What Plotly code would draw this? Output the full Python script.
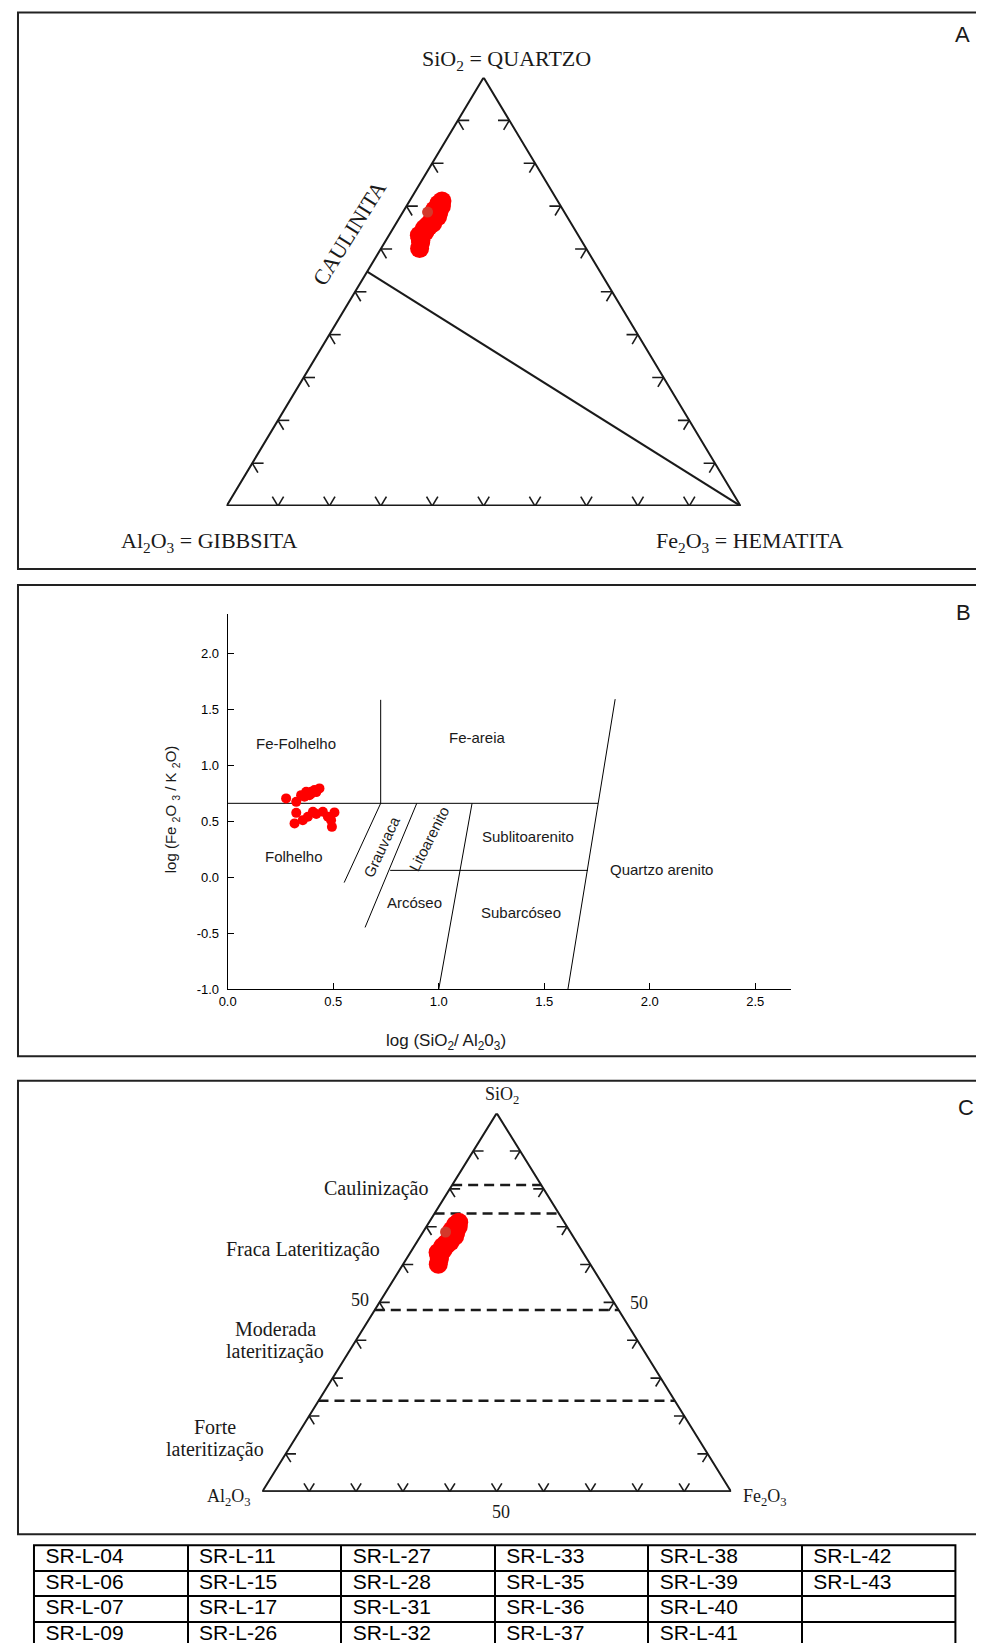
import plotly.graph_objects as go

# ---------- dados ternarios (fracao SiO2, Al2O3, Fe2O3) ----------
sio2 = [0.712, 0.705, 0.691, 0.686, 0.675, 0.668, 0.660, 0.655, 0.648, 0.640, 0.632,
        0.625, 0.615, 0.601, 0.700, 0.683, 0.671, 0.652, 0.637, 0.620, 0.694, 0.662]
al2o3 = [0.225, 0.235, 0.250, 0.244, 0.252, 0.264, 0.269, 0.281, 0.291, 0.294, 0.309,
         0.311, 0.315, 0.324, 0.232, 0.253, 0.263, 0.281, 0.300, 0.312, 0.241, 0.272]
fe2o3 = [0.063, 0.060, 0.059, 0.070, 0.073, 0.068, 0.071, 0.064, 0.061, 0.066, 0.059,
         0.064, 0.070, 0.075, 0.068, 0.064, 0.066, 0.067, 0.063, 0.068, 0.065, 0.066]
# amostra sobreposta (tom mais escuro)
destaque = [0.686, 0.266, 0.048]

caulinita = [0.547, 0.453, 0.0]          # si, al, fe
tick_frac = [0.1, 0.2, 0.3, 0.4, 0.5, 0.6, 0.7, 0.8, 0.9]
limites_lat = [0.81, 0.735, 0.48, 0.24]  # niveis de SiO2 (painel C)

# ---------- dados Herron (painel B) ----------
log_si_al = [0.277, 0.325, 0.348, 0.372, 0.396, 0.411, 0.435, 0.388, 0.364, 0.395, 0.420,
             0.325, 0.317, 0.356, 0.380, 0.404, 0.451, 0.475, 0.506, 0.490, 0.494, 0.420]
log_fe_k = [0.704, 0.673, 0.733, 0.763, 0.763, 0.778, 0.793, 0.733, 0.718, 0.745, 0.760,
            0.575, 0.481, 0.510, 0.540, 0.584, 0.584, 0.540, 0.579, 0.510, 0.450, 0.565]
# segmentos de limite: x0, y0, x1, y1
limites_b = [
    [0.0, 0.66, 1.755, 0.66],
    [0.725, 0.66, 0.725, 1.583],
    [0.725, 0.66, 0.552, -0.047],
    [0.896, 0.66, 0.651, -0.447],
    [1.158, 0.66, 1.0, -1.0],
    [0.77, 0.062, 1.707, 0.062],
    [1.836, 1.589, 1.612, -1.0],
]
xticks_b = [0.0, 0.5, 1.0, 1.5, 2.0, 2.5]
yticks_b = [-1.0, -0.5, 0.0, 0.5, 1.0, 1.5, 2.0]

# ---------- tabela de amostras (por coluna) ----------
amostras = [
    ["SR-L-04", "SR-L-06", "SR-L-07", "SR-L-09"],
    ["SR-L-11", "SR-L-15", "SR-L-17", "SR-L-26"],
    ["SR-L-27", "SR-L-28", "SR-L-31", "SR-L-32"],
    ["SR-L-33", "SR-L-35", "SR-L-36", "SR-L-37"],
    ["SR-L-38", "SR-L-39", "SR-L-40", "SR-L-41"],
    ["SR-L-42", "SR-L-43", "", ""],
]

W, H = 984, 1643
# deslocamento/escala observados entre a figura e a captura
OFFX, SCX = 15.5, 0.992
OFFY, SCY = 8.0, 0.995
SERIF = "Liberation Serif"
SANS = "Liberation Sans"

# geometria de cada painel em pixels da tela: x em 0, px por unidade, y em 0, px por unidade
GEO = {
    "A": (225.3, 514.7, 506.0, -428.5),
    "B": (226.4, 211.3, 877.2, -112.1),
    "C": (261.0, 469.5, 1491.5, -378.5),
}


def px(v):
    return (v - OFFX) / SCX / W


def py(v):
    return 1 - (v - OFFY) / SCY / H


def dom(panel, xr, yr):
    gx0, gxs, gy0, gys = GEO[panel]
    xd = [px(gx0 + xr[0] * gxs), px(gx0 + xr[1] * gxs)]
    yd = [py(gy0 + yr[0] * gys), py(gy0 + yr[1] * gys)]
    return xd, yd


def xy(si, al, fe):
    s = si + al + fe
    return (fe + si / 2) / s, si / s


def segs_to_xy(segs):
    xs, ys = [], []
    for a, b in segs:
        for p in (a, b):
            x, y = xy(*p)
            xs.append(x)
            ys.append(y)
        xs.append(None)
        ys.append(None)
    return xs, ys


L = 0.022
tick_segs = []
for f in tick_frac:
    tick_segs += [((f, 1 - f, 0), (f, 1 - f - L, L)), ((f, 1 - f, 0), (f - L, 1 - f, L)),
                  ((f, 0, 1 - f), (f, L, 1 - f - L)), ((f, 0, 1 - f), (f - L, L, 1 - f)),
                  ((0, 1 - f, f), (L, 1 - f - L, f)), ((0, 1 - f, f), (L, 1 - f, f - L))]

fig = go.Figure()


def triangulo(xa, ya):
    vx, vy = zip(*[xy(1, 0, 0), xy(0, 1, 0), xy(0, 0, 1), xy(1, 0, 0)])
    fig.add_trace(go.Scatter(x=list(vx), y=list(vy), mode="lines", xaxis=xa, yaxis=ya,
                             line=dict(color="#1a1a1a", width=2), cliponaxis=False, hoverinfo="skip"))
    bx, by = zip(xy(0, 1, 0), xy(0, 0, 1))
    fig.add_trace(go.Scatter(x=list(bx), y=list(by), mode="lines", xaxis=xa, yaxis=ya,
                             line=dict(color="#1a1a1a", width=3), cliponaxis=False, hoverinfo="skip"))
    tx, ty = segs_to_xy(tick_segs)
    fig.add_trace(go.Scatter(x=tx, y=ty, mode="lines", xaxis=xa, yaxis=ya,
                             line=dict(color="#1a1a1a", width=1.6), cliponaxis=False, hoverinfo="skip"))


def pontos_tern(xa, ya):
    pts = [xy(s, a, f) for s, a, f in zip(sio2, al2o3, fe2o3)]
    fig.add_trace(go.Scatter(x=[p[0] for p in pts], y=[p[1] for p in pts], mode="markers",
                             xaxis=xa, yaxis=ya, cliponaxis=False,
                             marker=dict(color="#ff0000", size=19, line=dict(width=0))))
    hx, hy = xy(*destaque)
    fig.add_trace(go.Scatter(x=[hx], y=[hy], mode="markers", xaxis=xa, yaxis=ya, cliponaxis=False,
                             marker=dict(color="#d4392b", size=11, line=dict(width=0))))


# ---------- painel A ----------
triangulo("x", "y")
kx, ky = segs_to_xy([(tuple(caulinita), (0, 0, 1))])
fig.add_trace(go.Scatter(x=kx, y=ky, mode="lines", line=dict(color="#1a1a1a", width=2),
                         cliponaxis=False, hoverinfo="skip"))
pontos_tern("x", "y")

# ---------- painel B ----------
bx, by = [], []
for x0, y0, x1, y1 in limites_b:
    bx += [x0, x1, None]
    by += [y0, y1, None]
fig.add_trace(go.Scatter(x=bx, y=by, mode="lines", xaxis="x2", yaxis="y2",
                         line=dict(color="black", width=1), cliponaxis=False, hoverinfo="skip"))
fig.add_trace(go.Scatter(x=log_si_al, y=log_fe_k, mode="markers", xaxis="x2", yaxis="y2",
                         cliponaxis=False, marker=dict(color="#ff0000", size=10, line=dict(width=0))))

# ---------- painel C ----------
triangulo("x3", "y3")
dsegs = [((s, 1 - s, 0), (s, 0, 1 - s)) for s in limites_lat]
dx, dy = segs_to_xy(dsegs)
fig.add_trace(go.Scatter(x=dx, y=dy, mode="lines", xaxis="x3", yaxis="y3",
                         line=dict(color="#1a1a1a", width=2.5, dash="10px,6px"),
                         cliponaxis=False, hoverinfo="skip"))
pontos_tern("x3", "y3")

# ---------- tabela (eixos x4/y4: coluna e linha) ----------
tx, ty, tt = [], [], []
for ci, col in enumerate(amostras):
    for ri, nome in enumerate(col):
        if nome:
            tx.append(ci + 0.075)
            ty.append(ri + 0.5)
            tt.append(nome)
fig.add_trace(go.Scatter(x=tx, y=ty, text=tt, mode="text", textposition="middle right",
                         xaxis="x4", yaxis="y4", cliponaxis=True, hoverinfo="skip",
                         textfont=dict(family=SANS, size=21, color="black")))

tab_h = H - (1545 - OFFY) / SCY          # altura disponivel (px da figura)
row_px = 25.6 / SCY
n_cols = len(amostras)

hidden = dict(visible=False, fixedrange=True)
xa_d, ya_d = dom("A", (0, 1), (0, 1))
xb_d, yb_d = dom("B", (0, 2.67), (-1.0, 2.35))
xc_d, yc_d = dom("C", (0, 1), (0, 1))
fig.update_layout(
    width=W, height=H, margin=dict(l=0, r=0, t=0, b=0),
    paper_bgcolor="white", plot_bgcolor="white", showlegend=False,
    xaxis=dict(domain=xa_d, anchor="y", range=[0, 1], **hidden),
    yaxis=dict(domain=ya_d, anchor="x", range=[0, 1], **hidden),
    xaxis3=dict(domain=xc_d, anchor="y3", range=[0, 1], **hidden),
    yaxis3=dict(domain=yc_d, anchor="x3", range=[0, 1], **hidden),
    xaxis2=dict(domain=xb_d, anchor="y2", range=[0, 2.67],
                showline=True, linecolor="black", linewidth=1, showgrid=False, zeroline=False,
                ticks="inside", ticklen=6, tickcolor="black", tickvals=xticks_b,
                ticktext=["%.1f" % v for v in xticks_b],
                tickfont=dict(family=SANS, size=13, color="black")),
    yaxis2=dict(domain=yb_d, anchor="x2", range=[-1.0, 2.35],
                showline=True, linecolor="black", linewidth=1, showgrid=False, zeroline=False,
                ticks="inside", ticklen=6, tickcolor="black", tickvals=yticks_b,
                ticktext=["%.1f" % v for v in yticks_b], ticklabelstandoff=5,
                tickfont=dict(family=SANS, size=13, color="black")),
    xaxis4=dict(domain=[px(32.5), px(955)], anchor="y4", range=[0, n_cols],
                tickvals=list(range(n_cols + 1)), showgrid=True, gridcolor="black", gridwidth=1.6,
                showticklabels=False, ticks="", zeroline=False, showline=False, fixedrange=True),
    yaxis4=dict(domain=[0, py(1545)], anchor="x4", range=[tab_h / row_px, 0],
                tickvals=[0, 1, 2, 3], showgrid=True, gridcolor="black", gridwidth=1.6,
                showticklabels=False, ticks="", zeroline=False, showline=False, fixedrange=True),
)

# molduras
for top, bot in [(12.6, 569), (585, 1056), (1080.5, 1534)]:
    fig.add_shape(type="rect", xref="paper", yref="paper", x0=1.0 / W, x1=1.02,
                  y0=py(bot), y1=py(top), line=dict(color="#222", width=2))
fig.add_shape(type="rect", xref="paper", yref="paper", x0=px(32.5), x1=px(955),
              y0=-0.01, y1=py(1545), line=dict(color="black", width=2))


def ann(text, x, y, panel, size, family=SERIF, angle=0, xanchor="center"):
    gx0, gxs, gy0, gys = GEO[panel]
    fig.add_annotation(text=text, x=px(gx0 + x * gxs), y=py(gy0 + y * gys),
                       xref="paper", yref="paper", showarrow=False,
                       textangle=angle, xanchor=xanchor, yanchor="middle",
                       font=dict(family=family, size=size, color="#1a1a1a"))


# textos A
ann("SiO<sub>2</sub> = QUARTZO", 0.545, 1.042, "A", 22)
ann("A", 1.431, 1.10, "A", 22, SANS)
ann("CAULINITA", 0.238, 0.637, "A", 22, angle=-58)
ann("Al<sub>2</sub>O<sub>3</sub> = GIBBSITA", -0.033, -0.0835, "A", 22)
ann("Fe<sub>2</sub>O<sub>3</sub> = HEMATITA", 1.018, -0.0835, "A", 22)

# textos B
ann("B", 3.485, 2.36, "B", 22, SANS)
for t, x, y, a in [("Fe-Folhelho", 0.325, 1.198, 0), ("Fe-areia", 1.185, 1.251, 0),
                   ("Folhelho", 0.316, 0.186, 0), ("Grauvaca", 0.731, 0.272, -65),
                   ("Litoarenito", 0.955, 0.345, -63), ("Sublitoarenito", 1.421, 0.364, 0),
                   ("Quartzo arenito", 2.057, 0.071, 0), ("Arcóseo", 0.887, -0.228, 0),
                   ("Subarcóseo", 1.391, -0.311, 0)]:
    ann(t, x, y, "B", 15, SANS, angle=a)
ann("log (SiO<sub>2</sub>/ Al<sub>2</sub>0<sub>3</sub>)", 1.036, -1.47, "B", 17, SANS)
ann("log (Fe <sub>2</sub>O <sub>3</sub> / K <sub>2</sub>O)", -0.262, 0.61, "B", 15, SANS, angle=-90)

# textos C
ann("SiO<sub>2</sub>", 0.512, 1.047, "C", 18)
ann("C", 1.5, 1.016, "C", 22, SANS)
ann("Caulinização", 0.357, 0.80, "C", 20, xanchor="right")
ann("Fraca Lateritização", 0.256, 0.64, "C", 20, xanchor="right")
ann("50", 0.209, 0.506, "C", 18)
ann("50", 0.804, 0.499, "C", 18)
ann("Moderada", 0.028, 0.429, "C", 20)
ann("lateritização", 0.028, 0.370, "C", 20)
ann("Forte", -0.101, 0.170, "C", 20)
ann("lateritização", -0.101, 0.112, "C", 20)
ann("Al<sub>2</sub>O<sub>3</sub>", -0.071, -0.015, "C", 18)
ann("Fe<sub>2</sub>O<sub>3</sub>", 1.073, -0.015, "C", 18)
ann("50", 0.509, -0.054, "C", 18)

fig.write_html("out.html")
